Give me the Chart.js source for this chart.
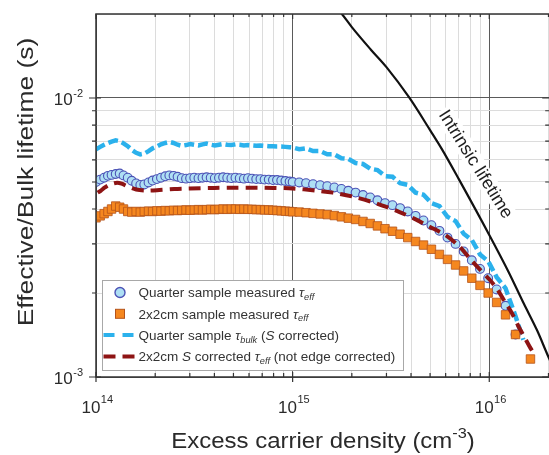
<!DOCTYPE html>
<html><head><meta charset="utf-8">
<script src="https://cdn.jsdelivr.net/npm/chart.js@4.4.1/dist/chart.umd.min.js"></script>
<style>html,body{margin:0;padding:0;overflow:hidden;background:#fff}canvas{display:block}</style>
</head><body>
<canvas id="c" width="558" height="455"></canvas>
<script>
const FONT = '"Liberation Sans", Arial, Helvetica, sans-serif';

// ---- Data (excess carrier density in cm^-3, lifetime in s) ----
const nLow = [1.00e14,1.05e14,1.10e14,1.15e14,1.20e14,1.26e14,1.32e14,1.38e14,1.45e14,1.52e14,1.60e14,1.68e14,1.76e14,1.85e14,1.94e14,2.04e14,2.14e14,2.25e14,2.36e14,2.48e14,2.60e14,2.73e14,2.87e14,3.01e14,3.16e14,3.32e14,3.48e14,3.65e14,3.83e14,4.02e14,4.22e14,4.43e14,4.65e14,4.88e14,5.12e14,5.38e14,5.65e14,5.93e14,6.22e14,6.53e14,6.86e14,7.20e14,7.56e14,7.94e14,8.33e14,8.75e14,9.19e14,9.65e14];
const nHigh = [1.00e15,1.08e15,1.17e15,1.27e15,1.38e15,1.50e15,1.63e15,1.77e15,1.92e15,2.09e15,2.28e15,2.48e15,2.70e15,2.95e15,3.22e15,3.52e15,3.85e15,4.22e15,4.63e15,5.08e15,5.58e15,6.13e15,6.74e15,7.41e15,8.15e15,8.97e15,9.87e15,1.09e16,1.21e16,1.36e16];
const nTail2x2 = [1.62e16];
const nTailBulk = [1.49e16];

const quarterMeasured = [0.00500,0.00510,0.00518,0.00526,0.00530,0.00534,0.00536,0.00528,0.00518,0.00505,0.00494,0.00488,0.00490,0.00498,0.00506,0.00512,0.00518,0.00524,0.00528,0.00526,0.00522,0.00516,0.00514,0.00516,0.00518,0.00516,0.00518,0.00520,0.00518,0.00516,0.00518,0.00520,0.00518,0.00516,0.00518,0.00516,0.00514,0.00516,0.00514,0.00512,0.00512,0.00510,0.00510,0.00508,0.00508,0.00506,0.00504,0.00502,
  0.00500,0.00498,0.00495,0.00491,0.00487,0.00483,0.00478,0.00472,0.00465,0.00458,0.00449,0.00440,0.00430,0.00420,0.00413,0.00403,0.00392,0.00378,0.00364,0.00350,0.00334,0.00316,0.00300,0.00282,0.00262,0.00244,0.00226,0.00206,0.00180,0.00142];

const measured2x2 = [0.00372,0.00378,0.00385,0.00392,0.00400,0.00410,0.00406,0.00400,0.00392,0.00390,0.00392,0.00390,0.00392,0.00393,0.00392,0.00394,0.00393,0.00395,0.00394,0.00396,0.00395,0.00396,0.00397,0.00396,0.00397,0.00398,0.00397,0.00398,0.00399,0.00398,0.00399,0.00400,0.00399,0.00400,0.00400,0.00399,0.00400,0.00399,0.00399,0.00398,0.00398,0.00397,0.00397,0.00396,0.00395,0.00394,0.00393,0.00392,
  0.00391,0.00390,0.00388,0.00386,0.00384,0.00382,0.00379,0.00375,0.00371,0.00367,0.00361,0.00355,0.00348,0.00340,0.00333,0.00325,0.00316,0.00306,0.00297,0.00287,0.00275,0.00264,0.00252,0.00240,0.00226,0.00213,0.00200,0.00185,0.00167,0.00142,
  0.00116];

const quarterBulk = [0.00655,0.00668,0.00680,0.00690,0.00698,0.00705,0.00700,0.00688,0.00672,0.00652,0.00636,0.00628,0.00632,0.00645,0.00660,0.00670,0.00682,0.00690,0.00696,0.00690,0.00680,0.00674,0.00678,0.00684,0.00680,0.00676,0.00682,0.00686,0.00680,0.00676,0.00680,0.00684,0.00680,0.00678,0.00682,0.00680,0.00676,0.00678,0.00676,0.00674,0.00676,0.00674,0.00672,0.00672,0.00670,0.00670,0.00668,0.00666,
  0.00665,0.00655,0.00660,0.00645,0.00645,0.00628,0.00628,0.00608,0.00605,0.00585,0.00580,0.00558,0.00552,0.00525,0.00522,0.00495,0.00488,0.00458,0.00450,0.00420,0.00410,0.00375,0.00362,0.00326,0.00310,0.00275,0.00260,0.00228,0.00208,0.00165,
  0.00136];

const nCorr2x2 = [1.02e14,1.06e14,1.10e14,1.15e14,1.20e14,1.28e14,1.35e14,1.45e14,1.60e14,1.80e14,2.10e14,2.50e14,3.00e14,4.00e14,5.00e14,6.50e14,8.00e14,1.00e15,1.30e15,1.60e15,2.00e15,2.50e15,3.00e15,3.50e15,4.20e15,5.00e15,6.00e15,7.00e15,8.00e15,9.00e15,1.00e16,1.10e16,1.20e16,1.30e16,1.40e16,1.50e16,1.60e16,1.70e16];
const corr2x2 = [0.00458,0.00466,0.00476,0.00486,0.00492,0.00497,0.00493,0.00482,0.00470,0.00466,0.00468,0.00472,0.00474,0.00476,0.00477,0.00477,0.00476,0.00474,0.00466,0.00458,0.00444,0.00425,0.00407,0.00390,0.00368,0.00345,0.00322,0.00295,0.00265,0.00242,0.00224,0.00206,0.00186,0.00170,0.00153,0.00140,0.00129,0.00120];

const nIntrinsic = [1.3e15,1.5e15,1.78e15,2.0e15,2.5e15,3.0e15,3.93e15,5.0e15,5.77e15,7.0e15,1.0e16,1.25e16,1.5e16,1.75e16,2.0e16,2.2e16];
const intrinsic = [0.0252,0.0229,0.0200,0.01795,0.0149,0.0129,0.0100,0.00767,0.00652,0.00512,0.00323,0.00239,0.00183,0.00147,0.00118,0.00102];

// ---- Axes ----
const xMin = 1e14, xMax = 2.065e16, yMin = 1e-3, yMax = 2e-2;
const xTicks = [1e14,2e14,3e14,4e14,5e14,6e14,7e14,8e14,9e14,1e15,2e15,3e15,4e15,5e15,6e15,7e15,8e15,9e15,1e16,2e16];
const yTicks = [1e-3,2e-3,3e-3,4e-3,5e-3,6e-3,7e-3,8e-3,9e-3,1e-2,2e-2];
const xTickLabels = [[1e14,'10','14'],[1e15,'10','15'],[1e16,'10','16']];
const yTickLabels = [[1e-2,'10','-2'],[1e-3,'10','-3']];
const xTitle = [{t:'Excess carrier density (cm'},{t:'-3',sup:true},{t:')'}];
const yTitle = 'Effective/Bulk lifetime (s)';
const intrinsicLabel = 'Intrinsic lifetime';
const legendRows = [
  [{t:'Quarter sample measured '},{t:'τ',i:true},{t:'eff',i:true,sub:true}],
  [{t:'2x2cm sample measured '},{t:'τ',i:true},{t:'eff',i:true,sub:true}],
  [{t:'Quarter sample '},{t:'τ',i:true},{t:'bulk',i:true,sub:true},{t:' ('},{t:'S',i:true},{t:' corrected)'}],
  [{t:'2x2cm '},{t:'S',i:true},{t:' corrected '},{t:'τ',i:true},{t:'eff',i:true,sub:true},{t:' (not edge corrected)'}]
];

const C_CIRC_FILL = '#aedff4', C_CIRC_EDGE = '#4c52b6';
const C_SQ_FILL = '#f5871f', C_SQ_EDGE = '#b4531a';
const C_BULK = '#2bb1ec', C_RED = '#8e1414';

const pts = (xs, ys) => xs.map((x, i) => ({x, y: ys[i]}));
const isPow10 = v => Math.abs(Math.log10(v) - Math.round(Math.log10(v))) < 1e-9;

function drawRich(ctx, segs, x, y, size, measureOnly) {
  let cx = x;
  for (const s of segs) {
    const small = s.sub || s.sup;
    const fs = small ? size * 0.68 : size;
    ctx.font = (s.i ? 'italic ' : '') + fs + 'px ' + FONT;
    const dy = s.sub ? size * 0.3 : (s.sup ? -size * 0.45 : 0);
    if (!measureOnly) ctx.fillText(s.t, cx, y + dy);
    cx += ctx.measureText(s.t).width;
  }
  return cx - x;
}

const decor = {
  id: 'decor',
  afterDatasetsDraw(chart) {
    const {ctx, scales: {x, y}} = chart;
    ctx.save();
    const lx = x.getPixelForValue(8.5e15), ly = y.getPixelForValue(0.00578);
    ctx.translate(lx, ly);
    ctx.rotate(58 * Math.PI / 180);
    ctx.font = '18px ' + FONT;
    const w = ctx.measureText(intrinsicLabel).width;
    ctx.fillStyle = '#fff';
    ctx.fillRect(-w / 2 - 2, -10, w + 4, 19);
    ctx.fillStyle = '#1e1e1e';
    ctx.textAlign = 'center';
    ctx.textBaseline = 'middle';
    ctx.fillText(intrinsicLabel, 0, 0);
    ctx.restore();
  },
  afterDraw(chart) {
    const {ctx, chartArea: a, scales: {x, y}} = chart;
    ctx.save();
    ctx.strokeStyle = '#333';
    ctx.lineWidth = 1.5;
    ctx.strokeRect(a.left, a.top, a.right - a.left, a.bottom - a.top);
    ctx.lineWidth = 1.2;
    ctx.beginPath();
    for (const v of xTicks) {
      const px = x.getPixelForValue(v);
      if (px > a.right - 1) continue;
      const maj = isPow10(v);
      ctx.moveTo(px, a.bottom + (maj ? 5 : 0)); ctx.lineTo(px, a.bottom - (maj ? 5 : 4));
      ctx.moveTo(px, a.top); ctx.lineTo(px, a.top + (maj ? 5 : 3));
    }
    for (const v of yTicks) {
      const py = y.getPixelForValue(v);
      if (py < a.top + 1) continue;
      const maj = isPow10(v);
      ctx.moveTo(a.left - (maj ? 7 : 4), py); ctx.lineTo(a.left + (maj ? 5 : 0), py);
      ctx.moveTo(a.right, py); ctx.lineTo(a.right - (maj ? 9 : 6), py);
    }
    ctx.stroke();
    ctx.fillStyle = '#2a2a2a';
    ctx.textBaseline = 'alphabetic';
    ctx.textAlign = 'left';
    for (const [v, b, e] of xTickLabels) {
      const px = x.getPixelForValue(v);
      ctx.font = '17px ' + FONT; const wb = ctx.measureText(b).width;
      ctx.font = '11px ' + FONT; const we = ctx.measureText(e).width;
      const x0 = px - (wb + we) / 2 + 1;
      ctx.font = '17px ' + FONT; ctx.fillText(b, x0, 413);
      ctx.font = '11px ' + FONT; ctx.fillText(e, x0 + wb + 0.5, 403);
    }
    for (const [v, b, e] of yTickLabels) {
      const py = y.getPixelForValue(v);
      ctx.font = '11px ' + FONT; const we = ctx.measureText(e).width;
      ctx.font = '17px ' + FONT; const wb = ctx.measureText(b).width;
      const xr = a.left - 13;
      ctx.font = '11px ' + FONT; ctx.fillText(e, xr - we, py - 1);
      ctx.font = '17px ' + FONT; ctx.fillText(b, xr - we - wb - 0.5, py + 7);
    }
    // x title (slightly widened to match the reference extent)
    ctx.save();
    ctx.translate(323, 448);
    ctx.scale(1.09, 1);
    const tw = drawRich(ctx, xTitle, 0, 0, 22, true);
    drawRich(ctx, xTitle, -tw / 2, 0, 22);
    ctx.restore();
    // y title
    ctx.save();
    ctx.translate(33, 182);
    ctx.rotate(-Math.PI / 2);
    ctx.scale(1.2, 1);
    ctx.font = '22px ' + FONT;
    ctx.textAlign = 'center';
    ctx.fillText(yTitle, 0, 0);
    ctx.restore();
    // legend
    const L = a.left + 6.5, T = a.top + 266.5, W = 301, H = 90;
    ctx.fillStyle = '#fff';
    ctx.fillRect(L, T, W, H);
    ctx.strokeStyle = '#a8a8a8';
    ctx.lineWidth = 1;
    ctx.strokeRect(L, T, W, H);
    const sx = L + 17.5;
    legendRows.forEach((segs, i) => {
      const ry = T + 12 + i * 21.3;
      ctx.save();
      if (i === 0) {
        ctx.beginPath(); ctx.arc(sx, ry, 5, 0, Math.PI * 2);
        ctx.fillStyle = C_CIRC_FILL; ctx.fill();
        ctx.strokeStyle = C_CIRC_EDGE; ctx.lineWidth = 1.4; ctx.stroke();
      } else if (i === 1) {
        ctx.fillStyle = C_SQ_FILL; ctx.fillRect(sx - 4.5, ry - 4.5, 9, 9);
        ctx.strokeStyle = C_SQ_EDGE; ctx.lineWidth = 1; ctx.strokeRect(sx - 4.5, ry - 4.5, 9, 9);
      } else {
        ctx.beginPath();
        ctx.setLineDash(i === 2 ? [11, 8] : [12, 7]);
        ctx.strokeStyle = i === 2 ? C_BULK : C_RED;
        ctx.lineWidth = 4;
        ctx.moveTo(L + 1, ry); ctx.lineTo(L + 33, ry); ctx.stroke();
      }
      ctx.restore();
      ctx.fillStyle = '#333';
      ctx.textBaseline = 'middle';
      ctx.textAlign = 'left';
      drawRich(ctx, segs, L + 36, ry + 1, 13.5);
    });
    ctx.restore();
  }
};

new Chart(document.getElementById('c'), {
  type: 'scatter',
  data: {
    datasets: [
      { label: 'Intrinsic lifetime', data: pts(nIntrinsic, intrinsic), showLine: true, borderColor: '#111', borderWidth: 2.2, pointRadius: 0, cubicInterpolationMode: 'monotone' },
      { label: '2x2cm S corrected τeff (not edge corrected)', data: pts(nCorr2x2, corr2x2), showLine: true, borderColor: C_RED, borderWidth: 4, borderDash: [12, 7], pointRadius: 0, tension: 0.3 },
      { label: '2x2cm sample measured τeff', data: pts(nLow.concat(nHigh, nTail2x2), measured2x2), showLine: false, pointStyle: 'rect', pointRadius: 6, backgroundColor: C_SQ_FILL, borderColor: C_SQ_EDGE, borderWidth: 0.8 },
      { label: 'Quarter sample τbulk (S corrected)', data: pts(nLow.concat(nHigh, nTailBulk), quarterBulk), showLine: true, borderColor: C_BULK, borderWidth: 4.5, borderDash: [10, 4], pointRadius: 0, tension: 0 },
      { label: 'Quarter sample measured τeff', data: pts(nLow.concat(nHigh), quarterMeasured), showLine: false, pointStyle: 'circle', pointRadius: 4.4, backgroundColor: C_CIRC_FILL, borderColor: C_CIRC_EDGE, borderWidth: 1.1 }
    ]
  },
  options: {
    responsive: false,
    animation: false,
    layout: { padding: { top: 14, right: 0, left: 0, bottom: 0 } },
    plugins: { legend: { display: false }, tooltip: { enabled: false } },
    scales: {
      x: {
        type: 'logarithmic', min: xMin, max: xMax,
        afterBuildTicks: s => { s.ticks = xTicks.map(v => ({value: v, major: isPow10(v)})); },
        afterFit: s => { s.height = 78; },
        ticks: { display: false },
        border: { display: false },
        grid: { drawTicks: false, lineWidth: 1, color: c => (c.tick && c.tick.major) ? '#5a5a5a' : '#dcdcdc' }
      },
      y: {
        type: 'logarithmic', min: yMin, max: yMax,
        afterBuildTicks: s => { s.ticks = yTicks.map(v => ({value: v, major: isPow10(v)})); },
        afterFit: s => { s.width = 96; },
        ticks: { display: false },
        border: { display: false },
        grid: { drawTicks: false, lineWidth: 1, color: c => (c.tick && c.tick.major) ? '#5a5a5a' : '#dcdcdc' }
      }
    }
  },
  plugins: [decor]
});
</script>
</body></html>
